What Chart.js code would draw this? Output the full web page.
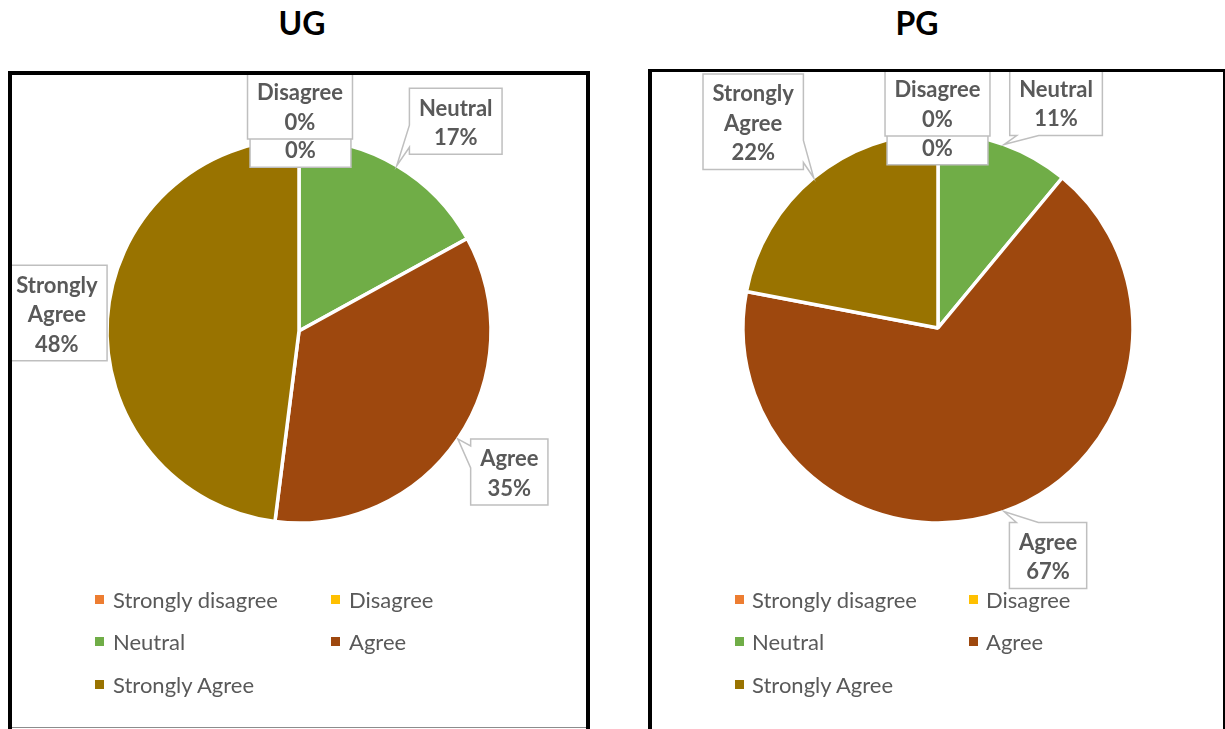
<!DOCTYPE html>
<html>
<head>
<meta charset="utf-8">
<title>UG / PG</title>
<script src="https://cdn.jsdelivr.net/npm/chart.js@4.4.1/dist/chart.umd.min.js"></script>
<style>
  body { margin: 0; width: 1225px; height: 729px; overflow: hidden; background: #fff; position: relative; font-family: Lato, "Open Sans", sans-serif; }
  .title { position: absolute; top: 7px; width: 200px; text-align: center; font-size: 32px; line-height: 32px; font-weight: bold; color: #000; }
  .frame { position: absolute; box-sizing: border-box; background: #fff; }
  #ugFrame { left: 8px; top: 71px; width: 582px; height: 680px; border: 4px solid #000; }
  #pgFrame { left: 648px; top: 69px; width: 577px; height: 680px; border: 3px solid #000; border-left-width: 4px; border-right-width: 2px; }
  .baseline { position: absolute; left: 12px; top: 727px; width: 574px; height: 1px; background: #8c8c8c; }
  canvas { position: absolute; }
  .legend { position: absolute; display: grid; grid-auto-rows: 42.5px; font-size: 22px; color: #595959; }
  .legend .item { display: flex; align-items: center; white-space: nowrap; }
  .legend .swatch { width: 9px; height: 9px; flex: none; }
</style>
</head>
<body>
<div class="title" style="left:202px">UG</div>
<div class="title" style="left:817px">PG</div>
<div class="frame" id="ugFrame"></div>
<div class="frame" id="pgFrame"></div>
<div class="baseline"></div>
<canvas id="ug" width="574" height="540" style="left:12px; top:75px"></canvas>
<canvas id="pg" width="572" height="540" style="left:652px; top:72px"></canvas>
<div class="legend" id="ugLegend" style="left:95px; top:578px; grid-template-columns: 236px 236px"></div>
<div class="legend" id="pgLegend" style="left:735px; top:578px; grid-template-columns: 234px 234px"></div>

<script>
const categories = ['Strongly disagree', 'Disagree', 'Neutral', 'Agree', 'Strongly Agree']
const ugValues = [0, 0, 17, 35, 48]
const pgValues = [0, 0, 11, 67, 22]
const colors = ['#ED7D31', '#FFC000', '#70AD47', '#9E480E', '#997300']

// where each callout box sits, relative to the outer edge at the slice middle
const ugLabelOffsets = [[1.5, -19.5], [1, -33], [59, -44.5], [51.5, 33], [-50.5, -6]]
const pgLabelOffsets = [[-0.5, -16], [-0.5, -30], [52, -42], [44, 44], [-60.5, -56]]

const callouts = {
  id: 'callouts',
  afterDatasetsDraw(chart, args, opts) {
    const ctx = chart.ctx
    const meta = chart.getDatasetMeta(0)
    const values = chart.data.datasets[0].data
    const lineH = 29.5, padX = 9.5, padY = 3.5
    ctx.save()
    ctx.font = 'bold 22px Lato'
    ctx.lineWidth = 1.5
    meta.data.forEach((arc, i) => {
      const p = arc.getProps(['x', 'y', 'startAngle', 'endAngle', 'outerRadius'], true)
      const mid = (p.startAngle + p.endAngle) / 2
      const ax = p.x + Math.cos(mid) * p.outerRadius
      const ay = p.y + Math.sin(mid) * p.outerRadius
      const lines = chart.data.labels[i].split(' ').concat([values[i] + '%'])
      const w = Math.max(...lines.map(t => ctx.measureText(t).width)) + padX * 2
      const h = lines.length * lineH + padY * 2
      const cx = ax + opts.offsets[i][0]
      const cy = ay + opts.offsets[i][1]
      const l = cx - w / 2, r = cx + w / 2, t = cy - h / 2, b = cy + h / 2

      // pick the side the pointer leaves from
      const out = { left: l - ax, right: ax - r, top: t - ay, bottom: ay - b }
      let side = null, best = 4
      for (const k in out) if (out[k] > best) { best = out[k]; side = k }
      const clamp = (v, lo, hi) => Math.min(Math.max(v, lo), hi)
      let c
      if (side === 'top' || side === 'bottom') c = clamp(ax, l + 18, r - 18)
      else if (side) c = clamp(ay, t + 18, b - 18)

      ctx.beginPath()
      ctx.moveTo(l, t)
      if (side === 'top') { ctx.lineTo(c - 11, t); ctx.lineTo(ax, ay); ctx.lineTo(c + 11, t) }
      ctx.lineTo(r, t)
      if (side === 'right') { ctx.lineTo(r, c - 11); ctx.lineTo(ax, ay); ctx.lineTo(r, c + 11) }
      ctx.lineTo(r, b)
      if (side === 'bottom') { ctx.lineTo(c + 11, b); ctx.lineTo(ax, ay); ctx.lineTo(c - 11, b) }
      ctx.lineTo(l, b)
      if (side === 'left') { ctx.lineTo(l, c + 11); ctx.lineTo(ax, ay); ctx.lineTo(l, c - 11) }
      ctx.closePath()
      ctx.fillStyle = '#fff'
      ctx.fill()
      ctx.strokeStyle = '#BFBFBF'
      ctx.stroke()

      ctx.fillStyle = '#595959'
      ctx.textAlign = 'center'
      ctx.textBaseline = 'middle'
      lines.forEach((txt, k) => ctx.fillText(txt, cx, t + padY + 2 + lineH * (k + 0.5)))
    })
    ctx.restore()
  }
}

function makePie(id, values, radius, offsets) {
  return new Chart(document.getElementById(id), {
    type: 'pie',
    data: {
      labels: categories,
      datasets: [{
        data: values,
        backgroundColor: colors,
        borderColor: '#fff',
        borderWidth: 3.5,
      }],
    },
    options: {
      responsive: false,
      animation: false,
      events: [],
      radius: radius,
      layout: { padding: { bottom: 28 } },
      plugins: {
        legend: { display: false },
        tooltip: { enabled: false },
        callouts: { offsets: offsets },
      },
    },
    plugins: [callouts],
  })
}

function buildLegend(chart, el) {
  const items = chart.options.plugins.legend.labels.generateLabels(chart)
  items.forEach(item => {
    const div = document.createElement('div')
    div.className = 'item'
    const sw = document.createElement('span')
    sw.className = 'swatch'
    sw.style.background = item.fillStyle
    sw.style.marginRight = el.id === 'ugLegend' ? '9px' : '8px'
    div.appendChild(sw)
    div.appendChild(document.createTextNode(item.text))
    el.appendChild(div)
  })
}

const ugChart = makePie('ug', ugValues, 192, ugLabelOffsets)
const pgChart = makePie('pg', pgValues, 195, pgLabelOffsets)
buildLegend(ugChart, document.getElementById('ugLegend'))
buildLegend(pgChart, document.getElementById('pgLegend'))
</script>
</body>
</html>
